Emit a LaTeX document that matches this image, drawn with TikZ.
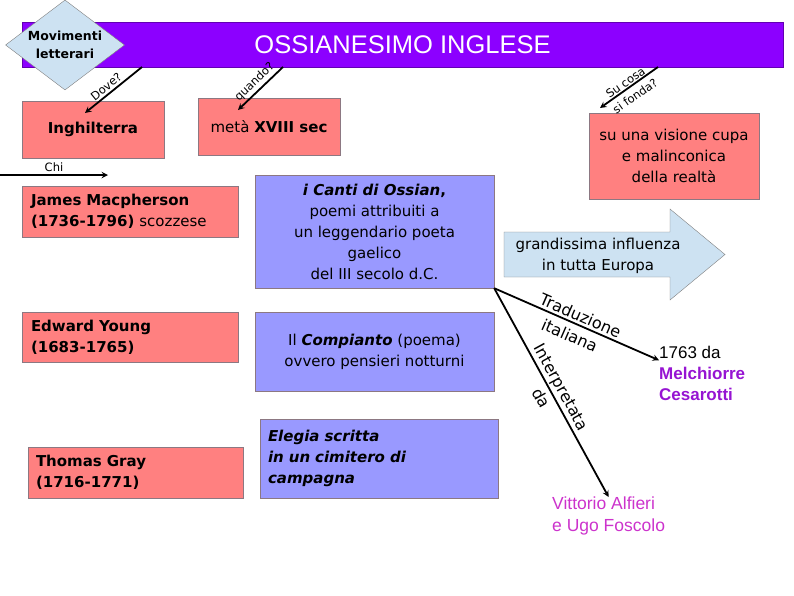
\documentclass[tikz,border=0pt]{standalone}
\usepackage{fontspec}
\setmainfont{DejaVu Sans}
\newfontfamily\arialfont{Liberation Sans}
\usepackage{tikz}
\usetikzlibrary{shapes.geometric}

\definecolor{bannerviolet}{RGB}{140,0,255}
\definecolor{redfill}{RGB}{255,128,128}
\definecolor{bluefill}{RGB}{153,153,255}
\definecolor{paleblue}{RGB}{205,226,242}
\definecolor{boxline}{RGB}{140,120,130}
\definecolor{melchcol}{RGB}{150,20,210}
\definecolor{alfiericol}{RGB}{204,51,204}

\tikzset{
  boxfont/.style={font=\fontsize{15}{21}\selectfont},
  redbox/.style={boxfont,draw=boxline,fill=redfill,inner sep=0pt},
  bluebox/.style={boxfont,draw=boxline,fill=bluefill,inner sep=0pt},
  conn/.style={line width=1.8pt,-stealth},
  lbl/.style={font=\fontsize{11.5}{12}\selectfont,inner sep=2pt},
  biglbl/.style={font=\fontsize{16}{17}\selectfont,inner sep=2.5pt},
}

\begin{document}
\begin{tikzpicture}[x=1pt,y=-1pt]
  \useasboundingbox (0,0) rectangle (794,595);

  % titolo
  \node[fill=bannerviolet,draw=bannerviolet!70!black,minimum width=761pt,minimum height=45pt,
        text=white,font=\arialfont\fontsize{25.5}{27}\selectfont] (banner) at (402.5,44.5) {OSSIANESIMO INGLESE};
  \node[diamond,draw=gray,fill=paleblue,aspect=1.3,inner sep=0pt,minimum width=119pt,minimum height=90pt,
        align=center,font=\bfseries\fontsize{12.5}{18}\selectfont] (movim) at (65,45) {Movimenti\\letterari};

  % prima riga
  \node[redbox,minimum width=142pt,minimum height=57pt] (ingh) at (93,129.5) {\textbf{Inghilterra}};
  \node[redbox,minimum width=142pt,minimum height=57pt] (meta) at (269,126.5) {metà \textbf{XVIII sec}};
  \node[redbox,minimum width=170pt,minimum height=86pt,align=center] (visione) at (674,156)
       {su una visione cupa\\e malinconica\\della realtà};

  % freccia grande
  \draw[draw=gray,fill=paleblue] (504,232) -- (670,232) -- (670,209) -- (725,254.5)
       -- (670,300) -- (670,277) -- (504,277) -- cycle;
  \node[boxfont,align=center] (influ) at (598,256) {grandissima influenza\\in tutta Europa};

  % autori
  \node[redbox,minimum width=216pt,minimum height=51pt,text width=198pt,align=left] (james) at (130,211.5)
       {\textbf{James Macpherson}\\\textbf{(1736-1796)} scozzese};
  \node[redbox,minimum width=216pt,minimum height=50pt,text width=198pt,align=left] (edward) at (130,337)
       {\textbf{Edward Young}\\\textbf{(1683-1765)}};
  \node[redbox,minimum width=215pt,minimum height=51pt,text width=199pt,align=left] (thomas) at (135.5,472.5)
       {\textbf{Thomas Gray}\\\textbf{(1716-1771)}};

  % opere
  \node[bluebox,minimum width=239pt,minimum height=113pt,align=center] (canti) at (374.5,231.5)
       {\textbf{\textit{i Canti di Ossian},}\\poemi attribuiti a\\un leggendario poeta\\gaelico\\del III secolo d.C.};
  \node[bluebox,minimum width=239pt,minimum height=79pt,align=center] (compianto) at (374.5,351.5)
       {Il \textbf{\textit{Compianto}} (poema)\\ovvero pensieri notturni};
  \node[bluebox,minimum width=238pt,minimum height=79pt,text width=222pt,align=left] (elegia) at (379,458.5)
       {\textbf{\textit{Elegia scritta}}\\\textbf{\textit{in un cimitero di}}\\\textbf{\textit{campagna}}};

  % traduttori
  \node[anchor=north west,align=left,inner sep=0pt,font=\arialfont\fontsize{17}{21}\selectfont] (cesar) at (659,346)
       {1763 da\\\textcolor{melchcol}{\textbf{Melchiorre}}\\\textcolor{melchcol}{\textbf{Cesarotti}}};
  \node[anchor=north west,align=left,inner sep=0pt,text=alfiericol,font=\arialfont\fontsize{17.5}{22}\selectfont] (alfieri) at (552,497)
       {Vittorio Alfieri\\e Ugo Foscolo};

  % domande
  \coordinate (doveS) at (142,67);
  \coordinate (doveE) at (85,113);
  \coordinate (quandoS) at (283,67);
  \coordinate (quandoE) at (238,110);
  \coordinate (fondaS) at (658,67);
  \coordinate (fondaE) at (600,108);
  \coordinate (chiS) at (0,175);
  \coordinate (chiE) at (108,175);

  \draw[conn] (doveS) -- node[lbl,above,sloped,pos=0.55] {Dove?} (doveE);
  \draw[conn] (quandoS) -- node[lbl,above,sloped] {quando?} (quandoE);
  \draw[conn] (fondaS) -- node[lbl,above,sloped,pos=0.5,inner sep=1pt] {Su cosa}
       node[lbl,below,sloped,pos=0.5,inner sep=5pt] {si fonda?} (fondaE);
  \draw[conn] (chiS) -- node[lbl,above] {Chi} (chiE);

  \draw[conn] (canti.south east) -- node[biglbl,above,sloped,pos=0.5] {Traduzione}
       node[biglbl,below,sloped,pos=0.49,inner sep=6pt] {italiana} (cesar.163);
  \draw[conn] (canti.south east) -- node[biglbl,above,sloped,pos=0.5,inner sep=1.5pt] {Interpretata}
       node[biglbl,below,sloped,pos=0.5,inner sep=4pt] {da} (alfieri.north);
\end{tikzpicture}
\end{document}
